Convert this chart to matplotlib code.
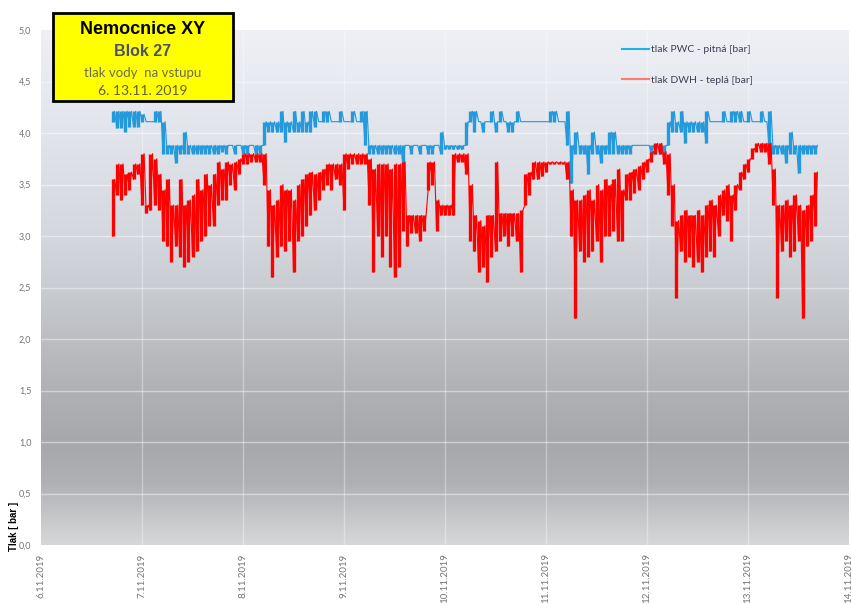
#!/usr/bin/env python3

# Water inlet pressure (PWC cold / DWH hot) for one hospital block, 6.-13.11.2019.
# Hourly min/max envelope of each series.

import numpy as np
import pandas as pd

import matplotlib
matplotlib.use("Agg")
import matplotlib.pyplot as plt
import matplotlib.dates as mdates
from matplotlib.colors import LinearSegmentedColormap
from matplotlib.lines import Line2D
from matplotlib.patches import Rectangle
from matplotlib.ticker import FuncFormatter, MultipleLocator


START = "2019-11-06 17:00"  # first logged hour

# tlak PWC - pitna [bar], hourly min / max
pwc_lo = [
    4.11, 4.05, 4.05, 4.01, 4.06, 4.06, 4.06, 4.11, 4.11, 4.11,
    4.11, 4.11, 3.80, 3.80, 3.80, 3.71, 3.80, 3.80, 3.80, 3.80,
    3.80, 3.80, 3.80, 3.80, 3.80, 3.80, 3.82, 3.80, 3.88, 3.80,
    3.88, 3.80, 3.80, 3.88, 3.80, 3.80, 3.88, 4.01, 4.01, 4.01,
    4.01, 3.91, 4.01, 4.01, 4.01, 4.01, 4.01, 4.01, 4.06, 4.11,
    4.11, 4.11, 4.11, 4.11, 4.11, 4.11, 4.11, 4.11, 4.11, 4.11,
    3.88, 3.80, 3.80, 3.80, 3.80, 3.80, 3.80, 3.80, 3.80, 3.70,
    3.88, 3.80, 3.88, 3.80, 3.88, 3.80, 3.80, 3.88, 3.80, 3.84,
    3.84, 3.84, 3.84, 3.84, 3.88, 4.11, 4.01, 4.11, 4.01, 4.11,
    4.11, 4.01, 4.11, 4.11, 4.01, 4.01, 4.11, 4.11, 4.11, 4.11,
    4.11, 4.11, 4.11, 4.11, 4.11, 4.11, 4.11, 4.11, 3.88, 3.51,
    3.80, 3.80, 3.80, 3.60, 3.80, 3.80, 3.71, 3.80, 3.80, 3.80,
    3.80, 3.80, 3.80, 3.80, 3.88, 3.88, 3.88, 3.88, 3.80, 3.80,
    3.80, 3.80, 3.88, 4.01, 4.01, 4.01, 3.90, 4.01, 4.01, 4.01,
    4.01, 3.90, 4.11, 4.11, 4.11, 4.11, 4.11, 4.11, 4.11, 4.11,
    4.11, 4.11, 4.11, 4.11, 4.11, 4.11, 3.88, 3.80, 3.80, 3.80,
    3.71, 3.80, 3.80, 3.61, 3.80, 3.80, 3.80, 3.80,
]
pwc_hi = [
    4.21, 4.21, 4.21, 4.21, 4.21, 4.21, 4.21, 4.18, 4.11, 4.11,
    4.21, 4.21, 4.11, 3.88, 3.88, 3.88, 3.88, 4.01, 3.88, 3.88,
    3.88, 3.88, 3.88, 3.88, 3.88, 3.88, 3.88, 3.88, 3.88, 3.88,
    3.88, 3.88, 3.88, 3.88, 3.88, 3.88, 4.11, 4.11, 4.11, 4.11,
    4.21, 4.11, 4.11, 4.21, 4.11, 4.21, 4.11, 4.21, 4.21, 4.11,
    4.21, 4.21, 4.11, 4.11, 4.21, 4.11, 4.11, 4.21, 4.11, 4.21,
    4.21, 3.88, 3.88, 3.88, 3.88, 3.88, 3.88, 3.88, 3.88, 3.88,
    3.88, 3.88, 3.88, 3.88, 3.88, 3.88, 3.88, 3.88, 4.01, 3.88,
    3.88, 3.88, 3.88, 3.88, 4.11, 4.21, 4.21, 4.11, 4.11, 4.11,
    4.21, 4.11, 4.21, 4.11, 4.11, 4.11, 4.21, 4.11, 4.11, 4.11,
    4.11, 4.11, 4.11, 4.11, 4.21, 4.21, 4.11, 4.11, 4.21, 3.88,
    4.01, 3.88, 3.88, 3.88, 4.01, 3.88, 3.88, 3.88, 4.01, 4.01,
    3.88, 3.88, 3.88, 3.88, 3.88, 3.88, 3.88, 3.88, 3.88, 3.88,
    3.88, 3.88, 4.11, 4.21, 4.11, 4.21, 4.11, 4.11, 4.11, 4.11,
    4.11, 4.21, 4.11, 4.11, 4.11, 4.21, 4.11, 4.21, 4.21, 4.21,
    4.11, 4.21, 4.11, 4.11, 4.21, 4.11, 4.21, 3.88, 3.88, 3.88,
    3.88, 4.01, 3.88, 3.88, 3.88, 3.88, 3.88, 3.88,
]

# tlak DWH - tepla [bar], hourly min / max
dwh_lo = [
    3.00, 3.40, 3.35, 3.40, 3.45, 3.55, 3.60, 3.30, 3.22, 3.25,
    3.30, 3.25, 2.95, 2.90, 2.75, 2.90, 2.80, 2.70, 2.75, 2.80,
    2.85, 2.95, 3.00, 3.10, 3.10, 3.30, 3.35, 3.35, 3.50, 3.45,
    3.60, 3.70, 3.70, 3.72, 3.72, 3.72, 3.50, 2.90, 2.60, 2.80,
    2.90, 2.85, 2.95, 2.65, 2.95, 3.00, 3.10, 3.20, 3.25, 3.35,
    3.45, 3.50, 3.45, 3.55, 3.50, 3.25, 3.65, 3.70, 3.70, 3.70,
    3.70, 3.30, 2.65, 3.00, 2.80, 3.00, 2.70, 2.60, 2.70, 3.05,
    2.90, 3.03, 3.03, 2.95, 3.05, 3.45, 3.50, 3.05, 3.20, 3.20,
    3.20, 3.20, 3.72, 3.72, 3.60, 2.95, 2.85, 2.65, 2.70, 2.55,
    2.80, 2.85, 2.95, 3.00, 2.90, 3.00, 2.95, 2.65, 3.30, 3.40,
    3.55, 3.55, 3.58, 3.62, 3.70, 3.70, 3.70, 3.70, 3.55, 3.00,
    2.20, 2.85, 2.75, 2.80, 2.85, 2.95, 2.75, 3.00, 3.00, 3.05,
    2.95, 2.95, 3.35, 3.35, 3.42, 3.45, 3.55, 3.62, 3.72, 3.80,
    3.80, 3.70, 3.40, 3.10, 2.40, 2.85, 2.75, 2.80, 2.70, 2.75,
    2.65, 2.80, 2.85, 2.80, 3.00, 3.20, 3.15, 2.95, 3.25, 3.45,
    3.55, 3.62, 3.75, 3.82, 3.82, 3.82, 3.70, 3.30, 2.40, 2.85,
    2.95, 2.80, 2.85, 2.95, 2.20, 2.90, 2.95, 3.10,
]
dwh_hi = [
    3.55, 3.70, 3.70, 3.60, 3.62, 3.70, 3.70, 3.80, 3.30, 3.80,
    3.75, 3.60, 3.45, 3.55, 3.30, 3.30, 3.55, 3.30, 3.35, 3.40,
    3.55, 3.45, 3.60, 3.50, 3.60, 3.72, 3.65, 3.72, 3.70, 3.72,
    3.75, 3.80, 3.80, 3.80, 3.80, 3.80, 3.80, 3.45, 3.30, 3.35,
    3.50, 3.45, 3.45, 3.35, 3.50, 3.55, 3.60, 3.62, 3.60, 3.62,
    3.65, 3.70, 3.70, 3.70, 3.70, 3.80, 3.80, 3.80, 3.80, 3.80,
    3.80, 3.75, 3.65, 3.70, 3.70, 3.70, 3.65, 3.70, 3.70, 3.72,
    3.20, 3.20, 3.20, 3.20, 3.20, 3.72, 3.72, 3.35, 3.30, 3.30,
    3.30, 3.80, 3.80, 3.80, 3.80, 3.50, 3.20, 3.15, 3.10, 3.20,
    3.20, 3.72, 3.22, 3.22, 3.22, 3.22, 3.22, 3.25, 3.60, 3.62,
    3.72, 3.72, 3.72, 3.72, 3.72, 3.72, 3.72, 3.72, 3.72, 3.45,
    3.35, 3.35, 3.40, 3.45, 3.35, 3.50, 3.45, 3.55, 3.50, 3.55,
    3.65, 3.45, 3.60, 3.62, 3.65, 3.68, 3.72, 3.75, 3.82, 3.90,
    3.90, 3.82, 3.80, 3.50, 3.15, 3.20, 3.25, 3.20, 3.20, 3.25,
    3.20, 3.30, 3.35, 3.30, 3.40, 3.45, 3.50, 3.40, 3.50, 3.62,
    3.70, 3.75, 3.85, 3.90, 3.90, 3.90, 3.90, 3.65, 3.30, 3.30,
    3.35, 3.30, 3.40, 3.30, 3.25, 3.30, 3.40, 3.62,
]

PWC_COLOR = "#2499db"
DWH_COLOR = "#ff0000"

# background gradient of the plot area (value -> colour), Excel style
BG_STOPS = [
    (0.00, "#d6d7d8"), (0.05, "#c6c8ca"), (0.12, "#aeb0b3"), (0.20, "#a6a8ab"),
    (0.30, "#afb1b4"), (0.40, "#bcbec2"), (0.50, "#c9ccd1"), (0.60, "#d4d7dd"),
    (0.80, "#e1e4eb"), (1.00, "#eef0f5"),
]


def draw_envelope(ax, lo, hi, start, color, zorder):
    """Hourly min/max drawn as dense vertical strokes joined by a thin trace."""
    hours = pd.date_range(start, periods=len(lo), freq="h")
    th = mdates.date2num(hours.to_pydatetime())
    ax.vlines(th, lo, hi, color=color, lw=2.4, zorder=zorder)

    vals = np.column_stack((lo, hi)).ravel()
    halves = pd.date_range(start, periods=len(vals), freq="30min")
    ax.plot(mdates.date2num(halves.to_pydatetime()), vals, color=color, lw=0.8,
            zorder=zorder)


def main():
    plt.rcParams["font.family"] = ["Lato", "DejaVu Sans"]

    fig = plt.figure(figsize=(8.51, 6.03), dpi=100)
    ax = fig.add_axes([41 / 851, 1 - 545 / 603, 808 / 851, 515 / 603])

    x0 = mdates.date2num(pd.Timestamp("2019-11-06").to_pydatetime())
    x1 = mdates.date2num(pd.Timestamp("2019-11-14").to_pydatetime())
    ax.set_xlim(x0, x1)
    ax.set_ylim(0, 5)

    # gradient background
    cmap = LinearSegmentedColormap.from_list("bg", BG_STOPS)
    grad = np.linspace(0, 1, 256).reshape(-1, 1)
    ax.imshow(grad, cmap=cmap, aspect="auto", origin="lower",
              extent=(x0, x1, 0, 5), zorder=0, interpolation="bicubic")

    # faint grid
    for y in np.arange(0.5, 5.0, 0.5):
        ax.axhline(y, color="white", lw=1, alpha=0.45, zorder=1)
    for d in range(1, 8):
        ax.axvline(x0 + d, color="white", lw=1, alpha=0.35, zorder=1)

    # series (hot water on top)
    draw_envelope(ax, pwc_lo, pwc_hi, START, PWC_COLOR, 3)
    draw_envelope(ax, dwh_lo, dwh_hi, START, DWH_COLOR, 4)

    # axes styling
    for s in ax.spines.values():
        s.set_visible(False)
    ax.yaxis.set_major_locator(MultipleLocator(0.5))
    ax.yaxis.set_major_formatter(FuncFormatter(lambda v, p: f"{v:.1f}".replace(".", ",")))
    ax.xaxis.set_major_locator(mdates.DayLocator())
    ax.xaxis.set_major_formatter(FuncFormatter(
        lambda v, p: (lambda d: f"{d.day}.{d.month}.{d.year}")(mdates.num2date(v))))
    ax.tick_params(axis="y", length=0, pad=7, labelsize=6.5, labelcolor="#747474")
    ax.tick_params(axis="x", length=0, pad=6, labelsize=7, labelcolor="#747474",
                   labelrotation=90)

    fig.text(14 / 851, 1 - 551 / 603, "Tlak [ bar ]", rotation=90, ha="center", va="bottom",
             fontsize=7, fontweight="bold", color="black", family=["Liberation Sans"])

    # title box
    fig.add_artist(Rectangle((53 / 851, 1 - 101 / 603), 180 / 851, 88 / 603,
                             transform=fig.transFigure, facecolor="#ffff00",
                             edgecolor="black", lw=2, zorder=10))
    cx = 143 / 851
    fig.text(cx, 1 - 30 / 603, "Nemocnice XY", ha="center", va="center", fontsize=13,
             fontweight="bold", color="black", family=["Liberation Sans"], zorder=11)
    fig.text(cx, 1 - 51 / 603, "Blok 27", ha="center", va="center", fontsize=11.5,
             fontweight="bold", color="#4f4f6a", family=["Liberation Sans"], zorder=11)
    fig.text(cx, 1 - 73 / 603, "tlak vody  na vstupu", ha="center", va="center",
             fontsize=9.5, color="#6e6e52", zorder=11)
    fig.text(cx, 1 - 91 / 603, "6. 13.11. 2019", ha="center", va="center",
             fontsize=10, color="#5e5e40", zorder=11)

    # legend
    handles = [
        Line2D([0], [0], color="#1fb0e6", lw=1.5, label="tlak PWC - pitná [bar]"),
        Line2D([0], [0], color="#ff7a6a", lw=1.5, label="tlak DWH - teplá [bar]"),
    ]
    fig.legend(handles=handles, loc="upper left", bbox_to_anchor=(617 / 851, 1 - 40 / 603),
               frameon=False, fontsize=7.5, handlelength=2.6, handletextpad=0.2,
               labelspacing=2.0, borderpad=0, labelcolor="#3f3f55")

    fig.savefig("out.png", dpi=100, facecolor="white")


if __name__ == "__main__":
    main()
